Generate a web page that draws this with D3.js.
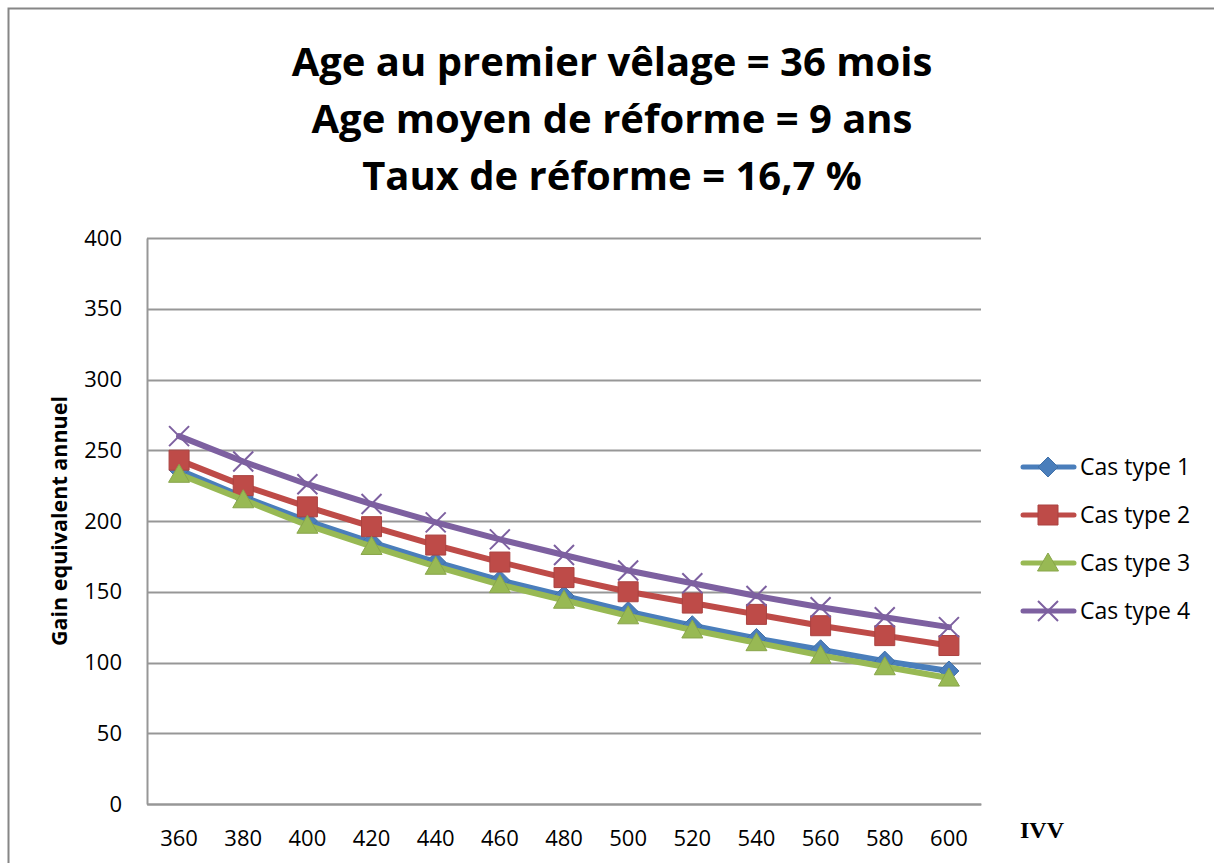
<!DOCTYPE html>
<html>
<head>
<meta charset="utf-8">
<script src="https://cdn.jsdelivr.net/npm/d3@7"></script>
<style>
  body { margin: 0; background: #fff; }
  text { font-family: "Open Sans", "Noto Sans", sans-serif; }
</style>
</head>
<body>
<div class="chart"></div>
<script>
var width = 1214;
var height = 863;

var ivv = ['360', '380', '400', '420', '440', '460', '480', '500', '520', '540', '560', '580', '600'];
var cas1 = [236, 217, 200, 185, 171, 158, 147, 136, 126, 117, 109, 101, 94];
var cas2 = [243, 225, 210, 196, 183, 171, 160, 150, 142, 134, 126, 119, 112];
var cas3 = [233, 215, 197, 182, 168, 155, 144, 133, 123, 114, 105, 97, 89];
var cas4 = [260, 242, 226, 212, 199, 187, 176, 165, 156, 147, 139, 132, 125];
var yTicks = [0, 50, 100, 150, 200, 250, 300, 350, 400];
var titleLines = ['Age au premier vêlage = 36 mois', 'Age moyen de réforme = 9 ans', 'Taux de réforme = 16,7 %'];

var series = [
    { name: 'Cas type 1', values: cas1, color: '#4A7EBB', marker: 'diamond' },
    { name: 'Cas type 2', values: cas2, color: '#BE4B48', marker: 'square' },
    { name: 'Cas type 3', values: cas3, color: '#98B954', marker: 'triangle' },
    { name: 'Cas type 4', values: cas4, color: '#7D60A0', marker: 'cross' }
];

var plot = { left: 147, right: 981, top: 238, bottom: 804 };
var font = '"Open Sans", "Noto Sans", sans-serif';

var x = d3.scaleBand().domain(ivv).range([plot.left, plot.right]);
var y = d3.scaleLinear().domain([0, 400]).range([plot.bottom, plot.top]);

var svg = d3.select('.chart').append('svg')
    .attr('width', width)
    .attr('height', height);

svg.append('rect')
    .attr('x', 0).attr('y', 0)
    .attr('width', width).attr('height', height)
    .attr('fill', 'white');

// chart frame (runs off the right and bottom edges)
svg.append('rect')
    .attr('x', 8.5).attr('y', 8.5)
    .attr('width', width + 20).attr('height', height + 20)
    .attr('fill', 'none')
    .attr('stroke', '#868686')
    .attr('stroke-width', 2);

// title
svg.append('g').selectAll('text')
    .data(titleLines)
    .enter().append('text')
    .attr('x', 612)
    .attr('y', function(d, i) { return 76 + i * 57; })
    .attr('text-anchor', 'middle')
    .attr('font-size', 40)
    .attr('font-weight', 'bold')
    .style('font-family', font)
    .text(function(d) { return d; });

// gridlines
svg.append('g').selectAll('line')
    .data(yTicks)
    .enter().append('line')
    .attr('x1', plot.left).attr('x2', plot.right)
    .attr('y1', function(d) { return Math.round(y(d)) + 0.5; })
    .attr('y2', function(d) { return Math.round(y(d)) + 0.5; })
    .attr('stroke', '#979797')
    .attr('stroke-width', 2);

var yAxis = d3.axisLeft(y).tickValues(yTicks).tickSize(0).tickPadding(25);
var gy = svg.append('g')
    .attr('transform', 'translate(' + plot.left + ',0)')
    .call(yAxis);
gy.attr('font-family', null).attr('font-size', null);
gy.select('.domain').attr('stroke', '#979797').attr('stroke-width', 2);
gy.selectAll('text').attr('fill', '#000')
    .style('font-size', '22px')
    .style('font-family', font);

var xAxis = d3.axisBottom(x).tickSize(0).tickPadding(26);
var gx = svg.append('g')
    .attr('transform', 'translate(0,' + plot.bottom + ')')
    .call(xAxis);
gx.attr('font-family', null).attr('font-size', null);
gx.select('.domain').attr('stroke', '#979797').attr('stroke-width', 2);
gx.selectAll('text').attr('fill', '#000')
    .style('font-size', '22px')
    .style('font-family', font);

// axis titles
svg.append('text')
    .attr('transform', 'translate(67,' + 521 + ') rotate(-90)')
    .attr('text-anchor', 'middle')
    .attr('font-size', 21.5)
    .attr('font-weight', 'bold')
    .style('font-family', font)
    .text('Gain equivalent annuel');

svg.append('text')
    .attr('x', 1042)
    .attr('y', 838)
    .attr('text-anchor', 'middle')
    .attr('font-size', 24)
    .attr('font-weight', 'bold')
    .style('font-family', '"Liberation Serif", "Times New Roman", serif')
    .text('IVV');

function markerPath(type) {
    if (type === 'diamond') return 'M0,-10L10,0L0,10L-10,0Z';
    if (type === 'square') return 'M-10,-10H10V10H-10Z';
    if (type === 'triangle') return 'M0,-10L10.5,8H-10.5Z';
    return 'M-10,-10L10,10M10,-10L-10,10';
}

function drawMarker(g, type, color) {
    var p = g.append('path').attr('d', markerPath(type));
    if (type === 'cross') {
        p.attr('fill', 'none').attr('stroke', color).attr('stroke-width', 2);
    } else {
        p.attr('fill', color).attr('stroke', d3.color(color).darker(0.3)).attr('stroke-width', 1);
    }
}

var line = d3.line()
    .x(function(d, i) { return x(ivv[i]) + x.bandwidth() / 2; })
    .y(function(d) { return y(d); });

series.forEach(function(s) {
    var g = svg.append('g');
    g.append('path')
        .attr('d', line(s.values))
        .attr('fill', 'none')
        .attr('stroke', s.color)
        .attr('stroke-width', 6)
        .attr('stroke-linejoin', 'round')
        .attr('stroke-linecap', 'round');
    s.values.forEach(function(v, i) {
        var m = g.append('g')
            .attr('transform', 'translate(' + (x(ivv[i]) + x.bandwidth() / 2) + ',' + y(v) + ')');
        drawMarker(m, s.marker, s.color);
    });
});

// legend
var legend = svg.append('g');
series.forEach(function(s, i) {
    var ly = 467 + i * 48;
    var lg = legend.append('g');
    lg.append('line')
        .attr('x1', 1023).attr('x2', 1074)
        .attr('y1', ly).attr('y2', ly)
        .attr('stroke', s.color)
        .attr('stroke-width', 5)
        .attr('stroke-linecap', 'round');
    var m = lg.append('g').attr('transform', 'translate(1048,' + ly + ')');
    drawMarker(m, s.marker, s.color);
    lg.append('text')
        .attr('x', 1080)
        .attr('y', ly + 8)
        .attr('font-size', 23)
        .style('font-family', font)
        .text(s.name);
});
</script>
</body>
</html>
